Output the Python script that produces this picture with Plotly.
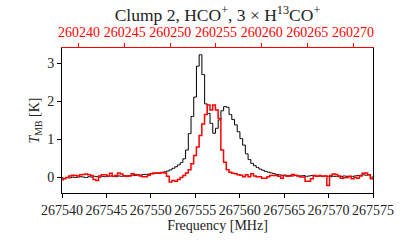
import numpy as np
import plotly.graph_objects as go

# Channel grids (reference channel frequency and spacing, MHz)
hco_ref_freq = 267555.59
hco_chan_width = 0.3058
h13co_ref_freq = 260253.30
h13co_chan_width = 0.2975
chan_first = -51

# HCO+ main-beam temperature [K]
hco_T = [
    -0.01, -0.02, 0.00, -0.01, 0.01, 0.00, 0.01, 0.02, 0.01, 0.00,
    0.02, 0.01, 0.03, 0.02, 0.01, 0.03, 0.02, 0.03, 0.04, 0.03,
    0.02, 0.04, 0.03, 0.05, 0.04, 0.05, 0.06, 0.05, 0.07, 0.06,
    0.08, 0.08, 0.09, 0.10, 0.10, 0.11, 0.12, 0.13, 0.15, 0.17,
    0.20, 0.24, 0.28, 0.33, 0.39, 0.49, 0.72, 1.15, 1.60, 2.11,
    2.92, 3.22, 2.70, 1.93, 1.68, 1.42, 1.16, 1.29, 1.51, 1.75,
    1.86, 1.84, 1.65, 1.52, 1.38, 1.20, 1.02, 0.85, 0.62, 0.47,
    0.37, 0.31, 0.26, 0.22, 0.19, 0.16, 0.14, 0.12, 0.10, 0.08,
    0.07, 0.06, 0.06, 0.05, 0.05, 0.04, 0.05, 0.04, 0.04, 0.05,
    0.03, 0.04, 0.05, 0.04, 0.03, 0.04, 0.03, 0.04, 0.03, 0.02,
    0.03, 0.03, 0.02, 0.03, 0.04, 0.03, 0.02, 0.03, 0.04, 0.05,
    0.06, 0.07, 0.06, 0.07, 0.01, 0.00,
]

# 3 x H13CO+ main-beam temperature [K]
h13co_T3 = [
    -0.06, -0.03, 0.00, 0.04, 0.06, 0.05, 0.04, 0.07, 0.08, 0.09,
    0.07, 0.05, -0.05, -0.08, 0.04, 0.07, 0.07, 0.04, 0.11, 0.03,
    0.05, 0.12, 0.09, 0.04, 0.03, 0.04, 0.10, 0.08, 0.07, 0.04,
    0.02, 0.02, 0.06, 0.10, 0.12, 0.12, 0.11, 0.13, 0.12, 0.03,
    -0.12, -0.08, -0.10, -0.05, 0.00, 0.05, 0.12, 0.20, 0.36, 0.58,
    0.80, 1.10, 1.40, 1.65, 1.90, 1.77, 1.90, 1.77, 1.55, 0.72,
    0.40, 0.20, 0.14, 0.11, 0.10, 0.07, 0.06, 0.02, 0.07, 0.02,
    0.10, 0.04, 0.02, 0.02, -0.02, -0.02, 0.02, 0.05, 0.05, 0.05,
    0.03, -0.02, 0.05, 0.03, 0.04, 0.08, 0.06, 0.04, 0.01, 0.01,
    -0.10, -0.10, -0.03, 0.05, 0.03, 0.05, 0.03, 0.04, -0.21, 0.05,
    0.09, 0.08, 0.04, -0.02, -0.01, 0.00, 0.03, -0.03, 0.00, -0.02,
    0.04, 0.11, 0.12, 0.07, -0.03, -0.03,
]

bottom_ticks = [267540, 267545, 267550, 267555, 267560, 267565, 267570, 267575]
top_ticks = [260240, 260245, 260250, 260255, 260260, 260265, 260270]
y_ticks = [0, 1, 2, 3]

bottom_range = [267540, 267575]
top_range = [260238.14, 260272.19]
y_range = [-0.407, 3.397]

chan = np.arange(chan_first, chan_first + len(hco_T))
hco_freq = hco_ref_freq + hco_chan_width * chan
h13co_freq = h13co_ref_freq + h13co_chan_width * chan

FONT = "Liberation Serif, Times New Roman, serif"
TXT = "#222222"

fig = go.Figure()
fig.add_trace(go.Scatter(
    x=hco_freq, y=hco_T, mode="lines", line=dict(shape="hvh", color="black", width=1.0),
    xaxis="x", yaxis="y", showlegend=False, hoverinfo="skip"))
fig.add_trace(go.Scatter(
    x=h13co_freq, y=h13co_T3, mode="lines", line=dict(shape="hvh", color="#ff0000", width=1.5),
    xaxis="x2", yaxis="y", showlegend=False, hoverinfo="skip"))

fig.update_layout(
    width=415, height=242,
    margin=dict(l=62, r=42, t=48, b=49, autoexpand=False),
    paper_bgcolor="white", plot_bgcolor="white",
    font=dict(family=FONT, size=14, color=TXT),
    title=dict(text="Clump 2, HCO<sup>+</sup>, 3 × H<sup>13</sup>CO<sup>+</sup>",
               x=0.5, xref="paper", xanchor="center",
               y=1 - 15 / 242, yref="container", yanchor="middle",
               font=dict(family=FONT, size=17.5, color=TXT)),
    xaxis=dict(range=bottom_range, tickvals=bottom_ticks, ticktext=[str(t) for t in bottom_ticks],
               automargin=False,
               showgrid=False, zeroline=False, showline=True, linecolor="black", linewidth=1,
               ticks="outside", ticklen=4, tickwidth=1, tickcolor="black",
               tickfont=dict(size=14, color=TXT),
               title=dict(text="Frequency [MHz]", standoff=3, font=dict(size=14))),
    xaxis2=dict(range=top_range, tickvals=top_ticks, ticktext=[str(t) for t in top_ticks],
                overlaying="x", side="top", anchor="y", automargin=False,
                showgrid=False, zeroline=False, showline=True, linecolor="#ff0000", linewidth=1,
                ticks="outside", ticklen=4, tickwidth=1, tickcolor="#ff0000",
                tickfont=dict(size=14, color="#ff0000")),
    yaxis=dict(range=y_range, tickvals=y_ticks, ticktext=[str(t) for t in y_ticks],
               automargin=False,
               showgrid=False, zeroline=False, showline=True, linecolor="black", linewidth=1,
               mirror=True, ticks="outside", ticklen=4, tickwidth=1, tickcolor="black",
               tickfont=dict(size=14, color=TXT),
               title=dict(text="<i>T</i><sub>MB</sub> [K]", standoff=4, font=dict(size=14))),
)

fig.write_html("out.html", config={"displayModeBar": False, "staticPlot": True},
               post_script="document.body.style.margin='0';")
